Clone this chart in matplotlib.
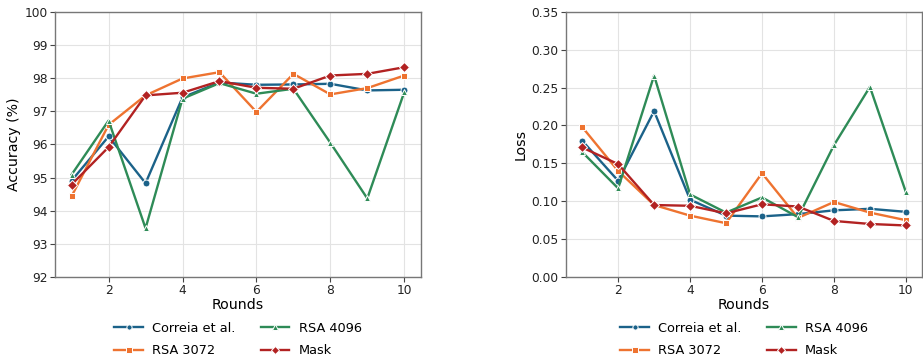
import matplotlib
matplotlib.use("Agg")
import matplotlib.pyplot as plt

rounds = [1, 2, 3, 4, 5, 6, 7, 8, 9, 10]

acc_correia = [94.91, 96.24, 94.83, 97.42, 97.87, 97.80, 97.81, 97.83, 97.63, 97.65]
acc_rsa3072 = [94.44, 96.59, 97.48, 97.99, 98.18, 96.98, 98.13, 97.51, 97.70, 98.08]
acc_rsa4096 = [95.09, 96.72, 93.47, 97.38, 97.85, 97.53, 97.68, 96.05, 94.37, 97.58]
acc_mask = [94.79, 95.92, 97.48, 97.56, 97.91, 97.71, 97.68, 98.08, 98.13, 98.33]

loss_correia = [0.180, 0.127, 0.219, 0.102, 0.081, 0.080, 0.083, 0.088, 0.090, 0.086]
loss_rsa3072 = [0.198, 0.140, 0.095, 0.081, 0.071, 0.137, 0.078, 0.099, 0.085, 0.075]
loss_rsa4096 = [0.165, 0.117, 0.266, 0.109, 0.085, 0.105, 0.079, 0.174, 0.251, 0.112]
loss_mask = [0.171, 0.149, 0.095, 0.094, 0.084, 0.096, 0.093, 0.074, 0.070, 0.068]

labels = ["Correia et al.", "RSA 3072", "RSA 4096", "Mask"]
colors = ["#1b6289", "#ee7330", "#2e8b57", "#b22222"]
markers = ["o", "s", "^", "D"]
msizes = [5, 5, 5, 5]

fig = plt.figure(figsize=(9.23, 3.6), dpi=100)
ax1 = fig.add_axes([0.0596, 0.2306, 0.3964, 0.7364])
ax2 = fig.add_axes([0.6132, 0.2306, 0.3858, 0.7364])

def style(ax):
    ax.set_facecolor("white")
    ax.grid(True, color="#e3e3e3", linewidth=0.8)
    ax.set_axisbelow(True)
    for s in ax.spines.values():
        s.set_color("#777777")
        s.set_linewidth(1.0)
    ax.tick_params(axis="both", labelsize=8.8, length=3.5, width=0.8, pad=1.8,
                   colors="#444444", labelcolor="#222222")
    ax.set_xticks([2, 4, 6, 8, 10])
    ax.set_xlim(0.55, 10.45)
    ax.set_xlabel("Rounds", fontsize=10.2, labelpad=0.5)

acc = [acc_correia, acc_rsa3072, acc_rsa4096, acc_mask]
loss = [loss_correia, loss_rsa3072, loss_rsa4096, loss_mask]

for ax, data in ((ax1, acc), (ax2, loss)):
    for d, lab, c, m, ms in zip(data, labels, colors, markers, msizes):
        ax.plot(rounds, d, color=c, marker=m, markersize=ms, linewidth=1.7,
                markeredgecolor="white", markeredgewidth=0.7, label=lab)
    style(ax)
    ax.legend(loc="upper center", bbox_to_anchor=(0.5, -0.125), ncol=2,
              frameon=False, fontsize=9.3, handlelength=2.2, columnspacing=2.0,
              labelspacing=0.75, handletextpad=0.7, markerscale=0.75)

ax1.set_ylim(92, 100)
ax1.set_yticks(range(92, 101))
ax1.set_ylabel("Accuracy (%)", fontsize=10.2, labelpad=2.5)
ax2.set_ylim(0, 0.35)
ax2.set_yticks([0, 0.05, 0.1, 0.15, 0.2, 0.25, 0.3, 0.35])
ax2.set_yticklabels(["0.00", "0.05", "0.10", "0.15", "0.20", "0.25", "0.30", "0.35"])
ax2.set_ylabel("Loss", fontsize=10.2, labelpad=2.5)

fig.savefig("out.png", dpi=100)
